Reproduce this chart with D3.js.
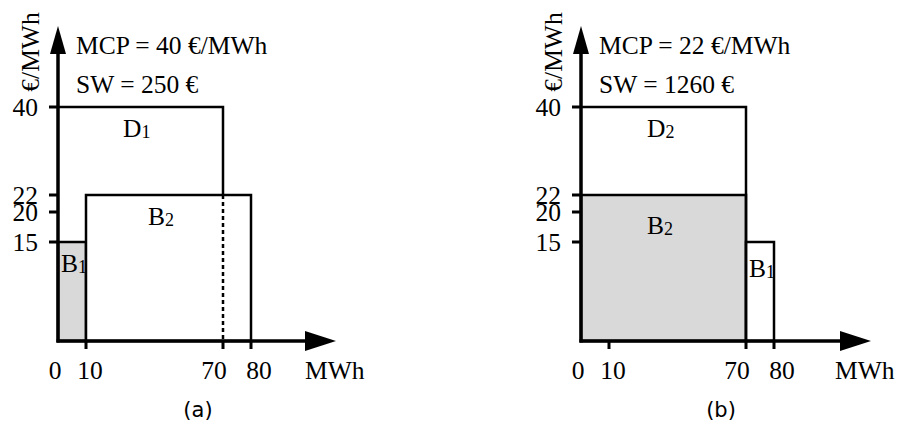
<!DOCTYPE html>
<html>
<head>
<meta charset="utf-8">
<script src="https://cdn.jsdelivr.net/npm/d3@7"></script>
<style>
  body { margin: 0; background: #fff; }
  svg text { font-family: "Liberation Serif", "Times New Roman", serif; fill: #000; }
  svg text.cap { font-family: "DejaVu Sans", sans-serif; }
</style>
</head>
<body>
<svg width="897" height="436"></svg>
<script>
// market clearing, two cases
var captions = ["(a)", "(b)"];
var mcpValues = [40, 22];
var swValues = [250, 1260];
var qtyTicks = [0, 10, 70, 80];
var priceTicks = [15, 20, 22, 40];

// offer blocks: [label, sub, from MWh, to MWh, price, accepted]
var offersA = [["B", "1", 0, 10, 15, true], ["B", "2", 10, 80, 22, false]];
var offersB = [["B", "2", 0, 70, 22, true], ["B", "1", 70, 80, 15, false]];
// demand blocks: [label, sub, from MWh, to MWh, price]
var demandA = ["D", "1", 0, 70, 40];
var demandB = ["D", "2", 0, 70, 40];

var svg = d3.select("svg");
var fs = 25.5;

// the drawing is schematic, so the axes are piecewise
var y = d3.scaleLinear().domain([0, 15, 20, 22, 40]).range([341, 242, 212, 195, 107]);

function panel(ox, axisEnd, offers, demand, mcp, sw, caption, lab) {
	var x = d3.scaleLinear().domain([0, 10, 70, 80]).range([ox, ox + 28, ox + 165, ox + 193]);
	var g = svg.append("g");

	// offers
	g.selectAll("rect.offer")
		.data(offers)
		.enter().append("rect")
		.attr("class", "offer")
		.attr("x", function(d) { return x(d[2]); })
		.attr("y", function(d) { return y(d[4]); })
		.attr("width", function(d) { return x(d[3]) - x(d[2]); })
		.attr("height", function(d) { return y(0) - y(d[4]); })
		.attr("fill", function(d) { return d[5] ? "#d9d9d9" : "#fff"; })
		.attr("stroke", "#000")
		.attr("stroke-width", 2.5);

	// demand block: top and right side, dashed where it runs over an offer
	var cut = d3.max(offers, function(d) { return d[2] < demand[3] && d[3] > demand[3] ? d[4] : 0; });
	g.append("path")
		.attr("d", d3.line()([[x(demand[2]), y(demand[4])], [x(demand[3]), y(demand[4])], [x(demand[3]), y(cut)]]))
		.attr("fill", "none").attr("stroke", "#000").attr("stroke-width", 2.5);
	if (cut > 0) {
		g.append("line")
			.attr("x1", x(demand[3])).attr("x2", x(demand[3]))
			.attr("y1", y(cut)).attr("y2", y(0))
			.attr("stroke", "#000").attr("stroke-width", 2.5)
			.attr("stroke-dasharray", "4,3");
	}

	// block labels
	function blockLabel(d, px, py) {
		var t = g.append("text").attr("x", px).attr("y", py).attr("font-size", fs);
		t.append("tspan").text(d[0]);
		t.append("tspan").attr("font-size", 18).attr("dy", 1).text(d[1]);
	}
	blockLabel(demand, lab.d[0], lab.d[1]);
	offers.forEach(function(d, i) { blockLabel(d, lab.o[i][0], lab.o[i][1]); });

	// axes
	g.append("line")
		.attr("x1", x(0)).attr("x2", x(0)).attr("y1", y(0) + 1.5).attr("y2", 50)
		.attr("stroke", "#000").attr("stroke-width", 3.5);
	g.append("line")
		.attr("x1", x(0) - 1.5).attr("x2", axisEnd - 25).attr("y1", y(0)).attr("y2", y(0))
		.attr("stroke", "#000").attr("stroke-width", 3.5);
	g.append("path")
		.attr("d", "M" + (x(0) - 8) + ",54L" + x(0) + ",26L" + (x(0) + 8) + ",54Z");
	g.append("path")
		.attr("d", "M" + (axisEnd - 31) + "," + (y(0) - 10) + "L" + axisEnd + "," + y(0) + "L" + (axisEnd - 31) + "," + (y(0) + 10) + "Z");

	// ticks
	g.selectAll("line.yt").data(priceTicks).enter().append("line")
		.attr("x1", x(0) - 9).attr("x2", x(0))
		.attr("y1", function(d) { return y(d); }).attr("y2", function(d) { return y(d); })
		.attr("stroke", "#000").attr("stroke-width", 3);
	g.selectAll("text.yt").data(priceTicks).enter().append("text")
		.attr("x", x(0) - 20).attr("y", function(d) { return y(d) + 9; })
		.attr("text-anchor", "end").attr("font-size", fs)
		.text(function(d) { return d; });

	g.selectAll("line.xt").data(qtyTicks.slice(1)).enter().append("line")
		.attr("x1", function(d) { return x(d); }).attr("x2", function(d) { return x(d); })
		.attr("y1", y(0)).attr("y2", y(0) + 8)
		.attr("stroke", "#000").attr("stroke-width", 3);
	var nudge = { 0: -3, 10: 4, 70: -9, 80: 8 };
	g.selectAll("text.xt").data(qtyTicks).enter().append("text")
		.attr("x", function(d) { return x(d) + nudge[d]; }).attr("y", 379)
		.attr("text-anchor", "middle").attr("font-size", fs)
		.text(function(d) { return d; });

	// axis titles
	g.append("text").attr("x", lab.mwh).attr("y", 379).attr("font-size", fs).text("MWh");
	g.append("text")
		.attr("transform", "translate(" + (x(0) - 19) + ",52) rotate(-90)")
		.attr("text-anchor", "middle").attr("font-size", fs)
		.text("€/MWh");

	g.append("text").attr("x", x(0) + 18).attr("y", 54).attr("font-size", fs)
		.text("MCP = " + mcp + " €/MWh");
	g.append("text").attr("x", x(0) + 18).attr("y", 93).attr("font-size", fs)
		.text("SW = " + sw + " €");

	g.append("text").attr("class", "cap")
		.attr("x", x(0) + 140).attr("y", 417).attr("text-anchor", "middle").attr("font-size", 21)
		.text(caption);
}

panel(58, 336, offersA, demandA, mcpValues[0], swValues[0], captions[0],
	{ d: [123, 137], o: [[61, 272], [148, 225]], mwh: 305 });
panel(581, 871, offersB, demandB, mcpValues[1], swValues[1], captions[1],
	{ d: [647, 137], o: [[647, 234], [749, 277]], mwh: 835 });
</script>
</body>
</html>
